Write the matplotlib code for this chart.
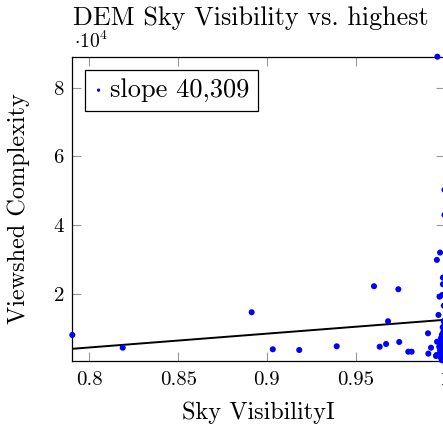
import numpy as np
import matplotlib
matplotlib.use("Agg")
import matplotlib.pyplot as plt

# look of a pgfplots figure
plt.rcParams['font.family'] = 'serif'
plt.rcParams['font.serif'] = ['cmr10', 'DejaVu Serif']
plt.rcParams['mathtext.fontset'] = 'cm'
plt.rcParams['axes.formatter.use_mathtext'] = True

# sky visibility (x) and viewshed complexity (y)
sky_visibility = [
    0.7904, 0.8188, 0.8914, 0.9033, 0.9182, 0.9393, 0.9603, 0.9740,
    0.9682, 0.9635, 0.9671, 0.9745, 0.9796, 0.9815, 0.9907, 0.9924,
    0.9909, 0.9952, 0.9966, 0.9972, 0.9957, 0.9975, 0.9991, 0.9991,
    0.9960, 1.0000, 1.0000, 0.9958, 0.9980, 0.9955,
    0.9995, 1.0000, 0.9990, 1.0000, 0.9993, 0.9985, 1.0000, 0.9980,
    0.9995, 1.0000, 0.9978, 0.9990, 1.0000, 0.9970, 0.9985, 1.0000,
    0.9975, 0.9992, 1.0000, 0.9983, 0.9968, 1.0000, 0.9990, 0.9978,
    1.0000, 0.9995, 0.9985, 1.0000, 0.9988, 0.9996,
]
viewshed_complexity = [
    7940, 4230, 14570, 3770, 3560, 4640, 22160, 21280,
    11940, 4520, 5310, 5900, 3060, 3060, 8430, 4230,
    2500, 1810, 13780, 19120, 29840, 31970, 24670, 22740,
    89100, 50280, 42980, 5980, 4520, 2100,
    12000, 11000, 10200, 9500, 8800, 8000, 7500, 7000,
    6600, 6000, 5600, 5200, 4800, 4500, 4100, 3800,
    3500, 3200, 2900, 2600, 2300, 2000, 1700, 1400,
    1100, 800, 600, 350, 19620, 16500,
]

# linear fit shown in the chart
fit_slope = 40309
fit_intercept = -27950
legend_label = "slope 40,309"

xtick_values = [0.8, 0.85, 0.9, 0.95, 1.0]
xtick_labels = ["0.8", "0.85", "0.9", "0.95", "1"]
ytick_values = [20000, 40000, 60000, 80000]
ytick_labels = ["2", "4", "6", "8"]

x = np.array(sky_visibility)
y = np.array(viewshed_complexity)

fig = plt.figure(figsize=(4.43, 4.30), dpi=100)
ax = fig.add_axes([72.3 / 443, 1 - 361 / 430, 372.2 / 443, 304.3 / 430])

ax.scatter(x, y, s=19, color='#0000ff', edgecolors='none', zorder=3,
           label=legend_label, clip_on=False)

x_line = np.array([x.min(), x.max()])
ax.plot(x_line, fit_slope * x_line + fit_intercept, color='black', lw=1.4, zorder=2)

ax.set_xlim(x.min(), x.max())
ax.set_ylim(y.min(), y.max())

ax.set_xticks(xtick_values)
ax.set_xticklabels(xtick_labels)
ax.set_yticks(ytick_values)
ax.set_yticklabels(ytick_labels)
ax.tick_params(direction='in', length=6.5, width=0.8, color='0.6',
               top=True, right=True, labelsize=15)
ax.tick_params(axis='x', pad=7)
ax.tick_params(axis='y', pad=6)
for sp in ax.spines.values():
    sp.set_linewidth(0.9)

fig.text(258 / 443, 1 - 419 / 430, "Sky VisibilityI", fontsize=17.5,
         ha='center', va='baseline')
fig.text(19 / 443, 1 - 209 / 430, "Viewshed Complexity", fontsize=17.5,
         ha='center', va='center', rotation=90)
fig.text(251 / 443, 1 - 25 / 430, "DEM Sky Visibility vs. highest",
         fontsize=18.8, ha='center', va='baseline')
fig.text(74 / 443, 1 - 48 / 430, r'$\cdot 10^{4}$', fontsize=14,
         ha='left', va='baseline')

leg = ax.legend(loc='upper left', fontsize=19, frameon=True, fancybox=False,
                edgecolor='black', framealpha=1, markerscale=0.55,
                handlelength=0.35, handletextpad=0.25, borderpad=0.32,
                borderaxespad=0.5)
leg.get_frame().set_linewidth(0.9)

fig.savefig("out.png", dpi=100)
